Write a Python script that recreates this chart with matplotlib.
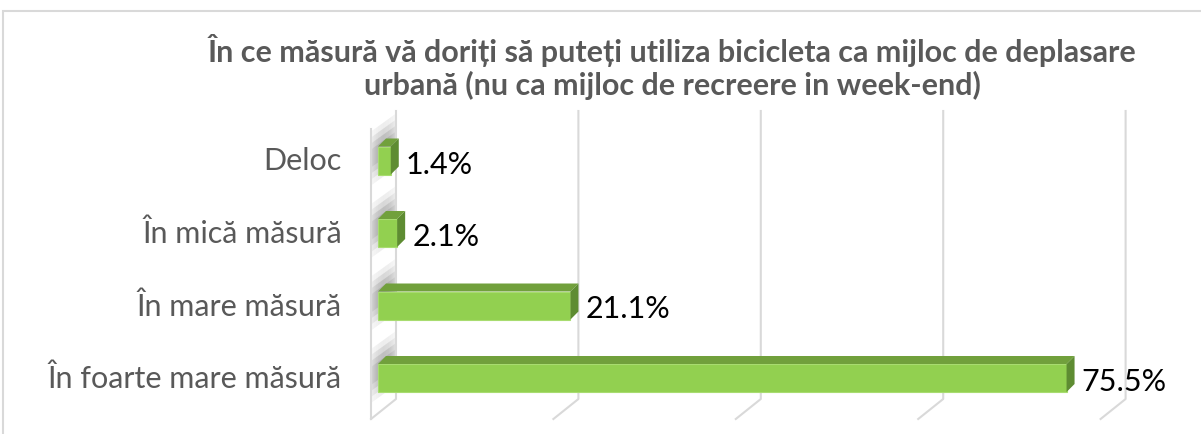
import numpy as np
import matplotlib.pyplot as plt
from matplotlib.patches import Polygon, Rectangle

# date din grafic
categorii = ["În foarte mare măsură", "În mare măsură", "În mică măsură", "Deloc"]
valori = [75.5, 21.1, 2.1, 1.4]
etichete = ["75.5%", "21.1%", "2.1%", "1.4%"]
grila = [20, 40, 60, 80]

titlu = ("În ce măsură vă doriți să puteți utiliza bicicleta ca mijloc de deplasare\n"
         "urbană (nu ca mijloc de recreere in week-end)")

W, H = 1201, 435
SX = 9.12   # pixeli pe procent
SY = 72.5   # pixeli intre categorii
X0 = 371    # pixelul pentru 0% (planul din fata)
Y0 = 379    # centrul barei de jos

def dx(p):
    return p / SX

def dy(p):
    return p / SY

def ypx(p):
    return (Y0 - p) / SY

fig = plt.figure(figsize=(W / 100, H / 100), dpi=100)
ax = fig.add_axes([0, 0, 1, 1])
ax.axis("off")

gri = "#d9d9d9"
text_gri = "#595959"
pos = np.arange(len(categorii))

# umbrele de pe peretele din stanga, desenate ca benzi subtiri
for p in pos:
    c = Y0 - p * SY
    for k in range(25):
        u0, u1 = k, k + 1
        w = np.sin(np.pi * (k + 0.5 + 4) / 33.0)
        for half, a0 in [(27, 0.10), (21, 0.14), (15, 0.18), (9, 0.18)]:
            ax.add_patch(Polygon([(dx(u0), ypx(c - 0.72 * u0 - 2 + half)),
                                  (dx(u0), ypx(c - 0.72 * u0 - 2 - half)),
                                  (dx(u1), ypx(c - 0.72 * u1 - 2 - half)),
                                  (dx(u1), ypx(c - 0.72 * u1 - 2 + half))],
                                 closed=True, facecolor="#555555", edgecolor="none",
                                 alpha=a0 * w, zorder=1.5))

# alb peste umbre in afara peretelui
ax.add_patch(Polygon([(0, ypx(130)), (0, ypx(60)), (dx(25), ypx(60)), (dx(25), ypx(112))],
                     closed=True, facecolor="white", edgecolor="none", zorder=1.8))
ax.add_patch(Polygon([(0, ypx(420)), (0, ypx(440)), (dx(25), ypx(440)), (dx(25), ypx(400))],
                     closed=True, facecolor="white", edgecolor="none", zorder=1.8))

ax.plot([0, 0], [ypx(130), ypx(420)], color=gri, lw=1.5, zorder=2)
ax.plot([dx(25), dx(25), 0], [ypx(112), ypx(400), ypx(420)], color=gri, lw=1.5, zorder=2)

# linii de grila
for g in grila:
    ax.plot([g + dx(25), g + dx(25), g], [ypx(112), ypx(400), ypx(420)],
            color=gri, lw=1.5, zorder=2)

# bare 3D
start = dx(7)
h = dy(28)
ax.barh(pos, valori, left=start, height=h, color="#92d050",
        edgecolor="#a8dc70", lw=0.8, zorder=3)
for p, v, lab in zip(pos, valori, etichete):
    yt = p + h / 2
    yb = p - h / 2
    x1 = start + v
    ax.add_patch(Polygon([(start, yt), (x1, yt), (x1 + dx(8), yt + dy(8)), (start + dx(8), yt + dy(8))],
                         closed=True, facecolor="#71a03c", edgecolor="none", zorder=3))
    ax.add_patch(Polygon([(x1, yb), (x1, yt), (x1 + dx(8), yt + dy(8)), (x1 + dx(8), yb + dy(8))],
                         closed=True, facecolor="#5e8c32", edgecolor="none", zorder=3))
    ax.text(x1 + dx(15), p - dy(3), lab, fontsize=22, ha="left", va="center",
            color="black", family="Lato", zorder=4)

# etichete categorii
for p, c in zip(pos, categorii):
    ax.text(dx(342 - X0), p, c, fontsize=22, ha="right", va="center",
            color=text_gri, family="Lato")

ax.set_xlim(-X0 / SX, (W - X0) / SX)
ax.set_ylim((Y0 - H) / SY, Y0 / SY)

fig.text(672 / W, 1 - 67 / H, titlu, fontsize=22, fontweight="bold", ha="center",
         va="center", color=text_gri, family="Lato", linespacing=1.2)

# chenarul graficului
fig.patches.append(Rectangle((3 / W, -0.02), 1.0, 1 - 12 / H + 0.02, transform=fig.transFigure,
                             fill=False, edgecolor=gri, lw=1.5))

fig.savefig("out.png", dpi=100)
